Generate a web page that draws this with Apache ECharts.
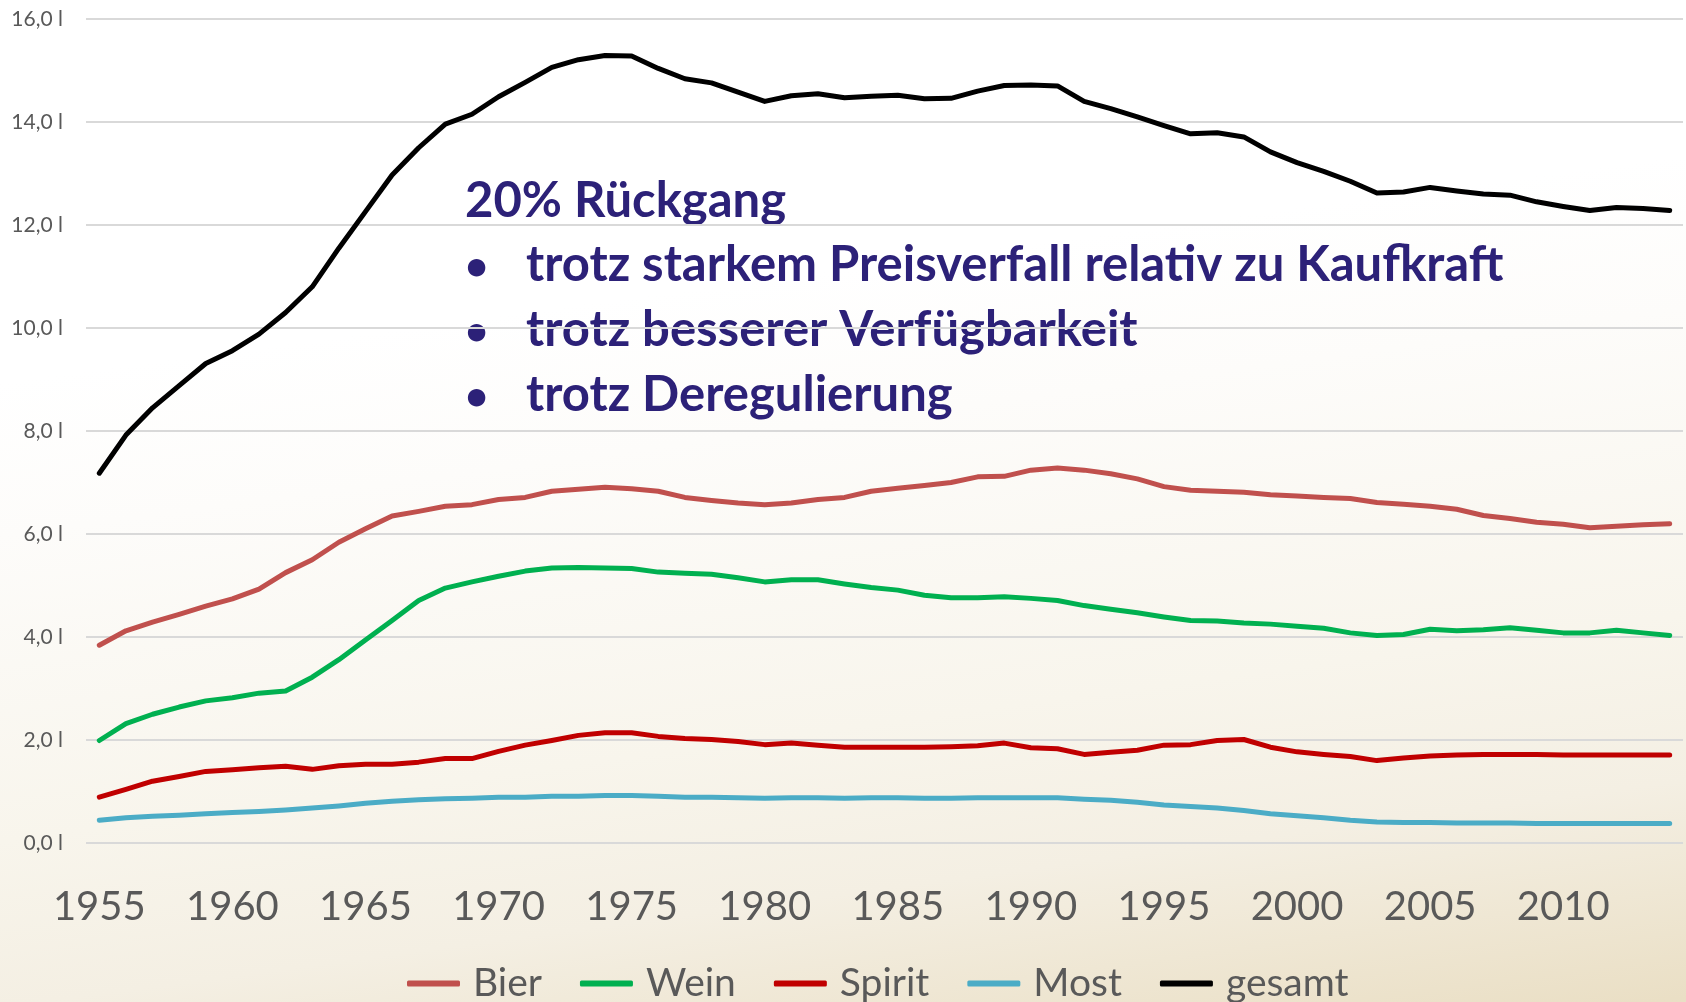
<!DOCTYPE html>
<html>
<head>
<meta charset="utf-8">
<script src="https://cdn.jsdelivr.net/npm/echarts@6/dist/echarts.min.js"></script>
<style>
  html, body { margin: 0; padding: 0; width: 1686px; height: 1002px; overflow: hidden; }
  #chart { width: 1686px; height: 1002px; }
</style>
</head>
<body>
<div id="chart"></div>
<script>
const years = [];
for (let y = 1955; y <= 2014; y++) years.push(String(y));

const bier = [3.84,4.12,4.29,4.44,4.60,4.74,4.93,5.25,5.50,5.84,6.10,6.35,6.44,6.54,6.57,6.67,6.71,6.83,6.87,6.91,
  6.88,6.83,6.71,6.65,6.60,6.57,6.60,6.67,6.71,6.83,6.89,6.94,7.00,7.11,7.12,7.24,7.28,7.24,7.17,7.07,
  6.92,6.85,6.83,6.81,6.76,6.74,6.71,6.69,6.61,6.58,6.54,6.48,6.36,6.30,6.23,6.19,6.12,6.15,6.18,6.20];

const wein = [1.99,2.32,2.50,2.64,2.76,2.82,2.91,2.95,3.22,3.56,3.94,4.32,4.71,4.95,5.07,5.18,5.28,5.34,5.35,5.34,
  5.33,5.26,5.24,5.22,5.15,5.07,5.11,5.11,5.03,4.96,4.91,4.81,4.76,4.76,4.78,4.75,4.71,4.61,4.54,4.47,
  4.39,4.32,4.31,4.27,4.25,4.21,4.17,4.08,4.03,4.05,4.15,4.12,4.14,4.18,4.13,4.08,4.08,4.13,4.08,4.03];

const spirit = [0.89,1.04,1.20,1.29,1.39,1.42,1.46,1.49,1.43,1.50,1.53,1.53,1.57,1.64,1.64,1.78,1.90,1.99,2.09,2.14,
  2.14,2.07,2.03,2.01,1.97,1.91,1.94,1.90,1.86,1.86,1.86,1.86,1.87,1.89,1.94,1.85,1.83,1.72,1.76,1.80,
  1.90,1.91,1.99,2.01,1.86,1.77,1.72,1.68,1.60,1.65,1.69,1.71,1.72,1.72,1.72,1.71,1.71,1.71,1.71,1.71];

const most = [0.44,0.49,0.52,0.54,0.57,0.59,0.61,0.64,0.68,0.72,0.77,0.81,0.84,0.86,0.87,0.89,0.89,0.91,0.91,0.92,
  0.92,0.91,0.89,0.89,0.88,0.87,0.88,0.88,0.87,0.88,0.88,0.87,0.87,0.88,0.88,0.88,0.88,0.85,0.83,0.79,
  0.74,0.71,0.68,0.63,0.57,0.53,0.49,0.44,0.41,0.40,0.40,0.39,0.39,0.39,0.38,0.38,0.38,0.38,0.38,0.38];

const gesamt = [7.18,7.92,8.45,8.88,9.31,9.56,9.88,10.30,10.80,11.55,12.26,12.97,13.50,13.96,14.15,14.49,14.77,15.06,15.21,15.29,
  15.28,15.04,14.84,14.76,14.58,14.40,14.51,14.55,14.47,14.50,14.52,14.45,14.46,14.60,14.71,14.72,14.70,14.40,14.26,14.10,
  13.93,13.77,13.79,13.71,13.42,13.21,13.04,12.85,12.62,12.64,12.73,12.66,12.60,12.58,12.45,12.36,12.28,12.34,12.32,12.28];

const seriesNames = ['Bier', 'Wein', 'Spirit', 'Most', 'gesamt'];
const seriesData = [bier, wein, spirit, most, gesamt];
const seriesColors = ['#C0504D', '#00B050', '#C00000', '#4BACC6', '#000000'];

const yTicks = { min: 0, max: 16, interval: 2 };

const noteTitle = '20% Rückgang';
const noteBullets = [
  'trotz starkem Preisverfall relativ zu Kaufkraft',
  'trotz besserer Verfügbarkeit',
  'trotz Deregulierung'
];

const FONT = 'Lato, "Noto Sans", sans-serif';
const NOTE_COLOR = '#2c2178';
const NOTE_SIZE = 49;

const chart = echarts.init(document.getElementById('chart'), null, { renderer: 'canvas' });

const graphics = [];
graphics.push({
  type: 'text', left: 465, top: 205 - 28,
  style: { text: noteTitle, font: 'bold ' + NOTE_SIZE + 'px ' + FONT, fill: NOTE_COLOR }
});
noteBullets.forEach((t, i) => {
  const cy = 269 + i * 65;
  graphics.push({
    type: 'text', left: 465, top: cy - 22,
    style: { text: '•', font: 'bold 40px ' + FONT, fill: NOTE_COLOR }
  });
  graphics.push({
    type: 'text', left: 526, top: cy - 28,
    style: { text: t, font: 'bold ' + NOTE_SIZE + 'px ' + FONT, fill: NOTE_COLOR }
  });
});

chart.setOption({
  animation: false,
  backgroundColor: new echarts.graphic.LinearGradient(0, 0, 0.1, 1.25, [
    { offset: 0, color: '#ffffff' },
    { offset: 0.3, color: '#ffffff' },
    { offset: 0.42, color: '#fdfcfa' },
    { offset: 0.66, color: '#f8f5ec' },
    { offset: 0.79, color: '#f4efe3' },
    { offset: 0.96, color: '#eadfc5' },
    { offset: 1, color: '#e8dcc2' }
  ]),
  grid: { left: 86, right: 3, top: 19, bottom: 159, containLabel: false },
  xAxis: {
    type: 'category',
    data: years,
    boundaryGap: true,
    axisLine: { show: false },
    axisTick: { show: false },
    axisLabel: {
      interval: 4,
      fontFamily: FONT,
      fontSize: 40,
      color: '#595959',
      margin: 44
    },
    splitLine: { show: false }
  },
  yAxis: {
    type: 'value',
    min: yTicks.min,
    max: yTicks.max,
    interval: yTicks.interval,
    axisLine: { show: false },
    axisTick: { show: false },
    axisLabel: {
      fontFamily: FONT,
      fontSize: 21,
      color: '#595959',
      margin: 23,
      formatter: v => v.toFixed(1).replace('.', ',') + ' l'
    },
    splitLine: { lineStyle: { color: '#d9d9d9', width: 2 } }
  },
  legend: {
    data: seriesNames,
    left: 402,
    top: 959,
    icon: 'roundRect',
    itemWidth: 53,
    itemHeight: 6,
    itemGap: 38,
    textStyle: { fontFamily: FONT, fontSize: 39, color: '#595959', padding: [0, 0, 0, 8] }
  },
  series: seriesNames.map((name, i) => ({
    name,
    type: 'line',
    data: seriesData[i],
    symbol: 'none',
    smooth: false,
    color: seriesColors[i],
    lineStyle: { width: 5, color: seriesColors[i], cap: 'round', join: 'round' },
    z: 2 + i
  })),
  graphic: graphics
});
</script>
</body>
</html>
